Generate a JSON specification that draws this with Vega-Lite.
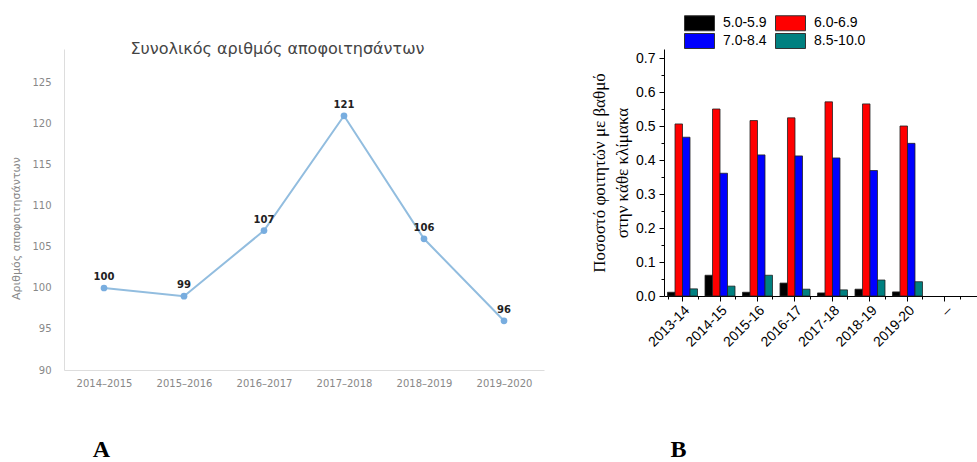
{
  "$schema": "https://vega.github.io/schema/vega-lite/v6.json",
  "padding": {"left": 10, "top": -46, "right": 0, "bottom": 0},
  "background": "white",
  "spacing": 46,
  "columns": 2,
  "config": {"view": {"stroke": null}},
  "resolve": {"legend": {"color": "independent"}},
  "datasets": {
    "graduates": [
      {"year": "2014–2015", "graduates": 100},
      {"year": "2015–2016", "graduates": 99},
      {"year": "2016–2017", "graduates": 107},
      {"year": "2017–2018", "graduates": 121},
      {"year": "2018–2019", "graduates": 106},
      {"year": "2019–2020", "graduates": 96}
    ],
    "grades": [
      {"year": "2013-14", "range": "5.0-5.9", "share": 0.011},
      {"year": "2013-14", "range": "6.0-6.9", "share": 0.506},
      {"year": "2013-14", "range": "7.0-8.4", "share": 0.467},
      {"year": "2013-14", "range": "8.5-10.0", "share": 0.021},
      {"year": "2014-15", "range": "5.0-5.9", "share": 0.061},
      {"year": "2014-15", "range": "6.0-6.9", "share": 0.55},
      {"year": "2014-15", "range": "7.0-8.4", "share": 0.361},
      {"year": "2014-15", "range": "8.5-10.0", "share": 0.029},
      {"year": "2015-16", "range": "5.0-5.9", "share": 0.011},
      {"year": "2015-16", "range": "6.0-6.9", "share": 0.516},
      {"year": "2015-16", "range": "7.0-8.4", "share": 0.415},
      {"year": "2015-16", "range": "8.5-10.0", "share": 0.061},
      {"year": "2016-17", "range": "5.0-5.9", "share": 0.038},
      {"year": "2016-17", "range": "6.0-6.9", "share": 0.524},
      {"year": "2016-17", "range": "7.0-8.4", "share": 0.412},
      {"year": "2016-17", "range": "8.5-10.0", "share": 0.02},
      {"year": "2017-18", "range": "5.0-5.9", "share": 0.009},
      {"year": "2017-18", "range": "6.0-6.9", "share": 0.571},
      {"year": "2017-18", "range": "7.0-8.4", "share": 0.406},
      {"year": "2017-18", "range": "8.5-10.0", "share": 0.018},
      {"year": "2018-19", "range": "5.0-5.9", "share": 0.02},
      {"year": "2018-19", "range": "6.0-6.9", "share": 0.565},
      {"year": "2018-19", "range": "7.0-8.4", "share": 0.369},
      {"year": "2018-19", "range": "8.5-10.0", "share": 0.047},
      {"year": "2019-20", "range": "5.0-5.9", "share": 0.012},
      {"year": "2019-20", "range": "6.0-6.9", "share": 0.5},
      {"year": "2019-20", "range": "7.0-8.4", "share": 0.449},
      {"year": "2019-20", "range": "8.5-10.0", "share": 0.042}
    ]
  },
  "concat": [
    {
      "width": 480,
      "height": 321,
      "data": {"name": "graduates"},
      "title": {
        "text": "Συνολικός αριθμός αποφοιτησάντων",
        "font": "DejaVu Sans",
        "fontSize": 16,
        "fontWeight": "normal",
        "color": "#444",
        "anchor": "middle",
        "frame": "bounds",
        "offset": -8
      },
      "encoding": {
        "x": {
          "field": "year",
          "type": "ordinal",
          "sort": null,
          "scale": {"type": "point", "padding": 0.5},
          "axis": {
            "title": "A",
            "titleX": 37,
            "titleY": 79,
            "titleFont": "Liberation Serif",
            "titleFontSize": 24,
            "titleFontWeight": "bold",
            "titleColor": "#000",
            "titleAngle": 0,
            "titleAlign": "center",
            "titleBaseline": "middle",
            "labelAngle": 0,
            "labelFont": "DejaVu Sans",
            "labelFontSize": 10,
            "labelColor": "#888",
            "labelPadding": 8,
            "ticks": false,
            "tickSize": 0,
            "domainColor": "#ddd",
            "grid": false
          }
        },
        "y": {
          "field": "graduates",
          "type": "quantitative",
          "scale": {"domain": [90, 129.146], "nice": false, "zero": false},
          "axis": {
            "title": "Αριθμός αποφοιτησάντων",
            "titleY": 179,
            "titleFont": "DejaVu Sans",
            "titleFontSize": 11,
            "titleFontWeight": "normal",
            "titleColor": "#888",
            "titlePadding": 10,
            "values": [90, 95, 100, 105, 110, 115, 120, 125],
            "labelFont": "DejaVu Sans",
            "labelFontSize": 10,
            "labelColor": "#888",
            "labelPadding": 13,
            "ticks": false,
            "tickSize": 0,
            "domainColor": "#ddd",
            "grid": false
          }
        }
      },
      "layer": [
        {"mark": {"type": "line", "color": "#92bddf", "strokeWidth": 2}},
        {"mark": {"type": "point", "filled": true, "size": 45, "color": "#78addf", "opacity": 1}},
        {
          "mark": {"type": "text", "dy": -11, "font": "DejaVu Sans", "fontSize": 10, "fontWeight": "bold", "color": "#222"},
          "encoding": {"text": {"field": "graduates", "type": "quantitative"}}
        }
      ]
    },
    {
      "width": 314,
      "height": 247,
      "data": {"name": "grades"},
      "encoding": {
        "x": {
          "field": "year",
          "type": "nominal",
          "scale": {
            "domain": ["2013-14", "2014-15", "2015-16", "2016-17", "2017-18", "2018-19", "2019-20", "–"],
            "paddingInner": 0.2,
            "paddingOuter": 0.287,
            "align": 0.163
          }
        },
        "y": {
          "field": "share",
          "type": "quantitative",
          "scale": {"domain": [0, 0.7265], "nice": false}
        }
      },
      "resolve": {"axis": {"x": "independent", "y": "independent"}},
      "layer": [
        {
          "mark": {"type": "bar", "stroke": "#222", "strokeWidth": 0.8},
          "encoding": {
            "x": {
              "field": "year",
              "type": "nominal",
              "axis": {
                "orient": "bottom",
                "title": "B",
                "titleX": 14,
                "titleY": 153,
                "titleFont": "Liberation Serif",
                "titleFontSize": 24,
                "titleFontWeight": "bold",
                "titleColor": "#000",
                "titleAngle": 0,
                "titleAlign": "center",
                "titleBaseline": "middle",
                "labelAngle": -45,
                "labelFont": "Liberation Sans",
                "labelFontSize": 14,
                "labelColor": "#000",
                "labelPadding": 2,
                "tickSize": 5,
                "tickColor": "#000",
                "domainColor": "#000",
                "grid": false
              }
            },
            "y": {
              "field": "share",
              "type": "quantitative",
              "axis": {
                "orient": "left",
                "title": "Ποσοστό φοιτητών με βαθμό",
                "titleFont": "Liberation Serif",
                "titleFontSize": 17,
                "titleFontWeight": "normal",
                "titleColor": "#000",
                "titlePadding": 27,
                "values": [0, 0.1, 0.2, 0.3, 0.4, 0.5, 0.6, 0.7],
                "format": ".1f",
                "labelFont": "Liberation Sans",
                "labelFontSize": 14,
                "labelColor": "#000",
                "labelPadding": 4,
                "tickSize": 5,
                "tickColor": "#000",
                "domainColor": "#000",
                "grid": false
              }
            },
            "xOffset": {
              "field": "range",
              "type": "nominal",
              "scale": {"domain": ["5.0-5.9", "6.0-6.9", "7.0-8.4", "8.5-10.0"], "paddingInner": 0, "paddingOuter": 0}
            },
            "color": {
              "field": "range",
              "type": "nominal",
              "scale": {
                "domain": ["5.0-5.9", "6.0-6.9", "7.0-8.4", "8.5-10.0"],
                "range": ["#000000", "#ff0000", "#0000ff", "#008080"]
              },
              "legend": {
                "orient": "none",
                "legendX": 27.5,
                "legendY": -34,
                "title": null,
                "columns": 2,
                "direction": "horizontal",
                "symbolType": "M-2,-1H2V1H-2Z",
                "symbolSize": 225,
                "symbolStrokeColor": "#333",
                "symbolStrokeWidth": 1,
                "symbolOpacity": 1,
                "labelFont": "Liberation Sans",
                "labelFontSize": 14,
                "labelColor": "#000",
                "labelOffset": 15.5,
                "columnPadding": 6,
                "rowPadding": -2.5,
                "padding": 0
              }
            }
          }
        },
        {
          "mark": {"type": "bar", "opacity": 0},
          "encoding": {
            "x": {
              "field": "year",
              "type": "nominal",
              "axis": {
                "orient": "bottom",
                "title": null,
                "labels": false,
                "domain": false,
                "tickBand": "extent",
                "tickSize": 3,
                "tickColor": "#000",
                "grid": false
              }
            },
            "y": {
              "field": "share",
              "type": "quantitative",
              "axis": {
                "orient": "left",
                "title": "στην κάθε κλίμακα",
                "titleFont": "Liberation Serif",
                "titleFontSize": 17,
                "titleFontWeight": "normal",
                "titleColor": "#000",
                "titlePadding": 29,
                "labels": false,
                "domain": false,
                "values": [0.05, 0.15, 0.25, 0.35, 0.45, 0.55, 0.65],
                "tickSize": 3,
                "tickColor": "#000",
                "grid": false
              }
            }
          }
        }
      ]
    }
  ]
}
